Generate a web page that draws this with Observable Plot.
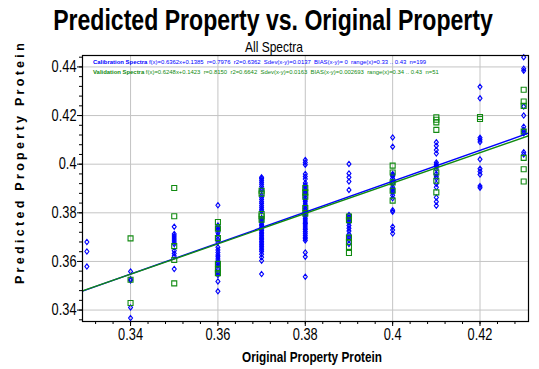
<!DOCTYPE html>
<html><head><meta charset="utf-8">
<script src="https://cdn.jsdelivr.net/npm/d3@7"></script>
<script src="https://cdn.jsdelivr.net/npm/@observablehq/plot@0.6"></script>
<style>body{margin:0;background:#fff;}</style>
</head><body><div id="chart"></div>
<script>
// ---- data ----
const xLevels = [0.33, 0.34, 0.35, 0.36, 0.37, 0.38, 0.39, 0.40, 0.41, 0.42, 0.43];

// Calibration spectra (blue diamonds), predicted values per original level
const cal033 = [0.3680, 0.3641, 0.3579];
const cal034 = [0.3559, 0.3527, 0.3522, 0.3411, 0.3367];
const cal035 = [0.3743, 0.3713, 0.3705, 0.3696, 0.3688, 0.3680, 0.3672, 0.3644, 0.3633, 0.3622, 0.3569];
const cal036 = [0.3831, 0.3748, 0.3738, 0.3728, 0.3718, 0.3706, 0.3690, 0.3680, 0.3658, 0.3647, 0.3637, 0.3627, 0.3619, 0.3610, 0.3601, 0.3592, 0.3582, 0.3570, 0.3555, 0.3544, 0.3518, 0.3477];
const cal037 = [0.3946, 0.3941, 0.3934, 0.3926, 0.3917, 0.3908, 0.3899, 0.3893, 0.3871, 0.3863, 0.3855, 0.3846, 0.3838, 0.3829, 0.3821, 0.3813, 0.3806, 0.3779, 0.3772, 0.3766, 0.3759, 0.3752, 0.3747, 0.3740, 0.3733, 0.3727, 0.3720, 0.3714, 0.3708, 0.3701, 0.3695, 0.3689, 0.3682, 0.3676, 0.3669, 0.3662, 0.3655, 0.3648, 0.3641, 0.3630, 0.3617, 0.3603, 0.3548];
const cal038 = [0.4017, 0.4007, 0.3998, 0.3960, 0.3949, 0.3939, 0.3923, 0.3914, 0.3906, 0.3897, 0.3889, 0.3884, 0.3880, 0.3871, 0.3862, 0.3853, 0.3845, 0.3836, 0.3828, 0.3819, 0.3811, 0.3802, 0.3794, 0.3786, 0.3778, 0.3770, 0.3762, 0.3757, 0.3754, 0.3746, 0.3738, 0.3731, 0.3723, 0.3716, 0.3708, 0.3700, 0.3693, 0.3686, 0.3637, 0.3619, 0.3537];
const cal039 = [0.4001, 0.3962, 0.3946, 0.3929, 0.3894, 0.3791, 0.3782, 0.3771, 0.3760, 0.3748, 0.3737, 0.3725, 0.3712, 0.3700, 0.3688, 0.3672];
const cal040 = [0.4110, 0.4072, 0.3960, 0.3955, 0.3950, 0.3941, 0.3930, 0.3920, 0.3905, 0.3897, 0.3890, 0.3885, 0.3872, 0.3860, 0.3811, 0.3804, 0.3743, 0.3729, 0.3715];
const cal041 = [0.4090, 0.4076, 0.4058, 0.4044, 0.4007, 0.4000, 0.3994, 0.3990, 0.3980, 0.3960, 0.3950, 0.3942, 0.3920, 0.3905, 0.3863, 0.3846, 0.3829];
const cal042 = [0.4318, 0.4271, 0.4109, 0.4100, 0.4091, 0.4020, 0.3981, 0.3970, 0.3958, 0.3910, 0.3903];
const cal043 = [0.4440, 0.4393, 0.4384, 0.4237, 0.4200, 0.4154, 0.4142, 0.4134, 0.4127, 0.4049, 0.4040];

// Validation spectra (green squares)
const val033 = [];
const val034 = [0.3695, 0.3525, 0.3429];
const val035 = [0.3902, 0.3786, 0.3663, 0.3606, 0.3510];
const val036 = [0.3762, 0.3735, 0.3696, 0.3590, 0.3567, 0.3552];
const val037 = [0.3891, 0.3879, 0.3795, 0.3786, 0.3772];
const val038 = [0.3902, 0.3884, 0.3866, 0.3820, 0.3797];
const val039 = [0.3785, 0.3770, 0.3698, 0.3680, 0.3660, 0.3635];
const val040 = [0.3994, 0.3966, 0.3925, 0.3891, 0.3850];
const val041 = [0.4193, 0.4183, 0.4172, 0.4141, 0.3966, 0.3932, 0.3884];
const val042 = [0.4194, 0.4186];
const val043 = [0.4306, 0.4258, 0.4240, 0.4134, 0.4026, 0.3979, 0.3929];

// regression fits [slope, intercept]
const calFit = [0.6362, 0.1385];
const valFit = [0.6248, 0.1423];

const xTicks = [0.34, 0.36, 0.38, 0.40, 0.42];
const yTicks = [0.34, 0.36, 0.38, 0.40, 0.42, 0.44];
const tickLabels = ["0.34", "0.36", "0.38", "0.4", "0.42", "0.44"];

const titleText = "Predicted Property vs. Original Property";
const subtitleText = "All Spectra";
const xLabel = "Original Property Protein";
const yLabel = "Predicted Property Protein";
const calName = "Calibration Spectra";
const calStats = "f(x)=0.6362x+0.1385\u00a0\u00a0r=0.7976\u00a0\u00a0r2=0.6362\u00a0\u00a0Sdev(x-y)=0.0137\u00a0\u00a0BIAS(x-y)=\u00a00\u00a0\u00a0range(x)=0.33\u00a0..\u00a00.43\u00a0\u00a0n=199";
const valName = "Validation Spectra";
const valStats = "f(x)=0.6248x+0.1423\u00a0\u00a0r=0.8150\u00a0\u00a0r2=0.6642\u00a0\u00a0Sdev(x-y)=0.0163\u00a0\u00a0BIAS(x-y)=0.002693\u00a0\u00a0range(x)=0.34\u00a0..\u00a00.43\u00a0\u00a0n=51";

// ---- build tables ----
const calCols = [cal033, cal034, cal035, cal036, cal037, cal038, cal039, cal040, cal041, cal042, cal043];
const valCols = [val033, val034, val035, val036, val037, val038, val039, val040, val041, val042, val043];
const calData = xLevels.flatMap((x, i) => calCols[i].map(y => ({x, y})));
const valData = xLevels.flatMap((x, i) => valCols[i].map(y => ({x, y})));

const xDomain = [0.329, 0.4311];
const yDomain = [0.3353, 0.4447];
const fitLine = f => xDomain.map(x => ({x, y: f[0] * x + f[1]}));

const fmt = d => tickLabels[yTicks.findIndex(t => Math.abs(t - d) < 1e-9)] ?? String(d);
const xMinor = d3.range(83, 108).map(i => +(i * 0.004).toFixed(3));
const yMinor = d3.range(84, 112).map(i => +(i * 0.004).toFixed(3));

const diamondSym = {draw(ctx, size) { const w = 2.0, h = 2.6; ctx.moveTo(0, -h); ctx.lineTo(w, 0); ctx.lineTo(0, h); ctx.lineTo(-w, 0); ctx.closePath(); }};
const squareSym = {draw(ctx, size) { const s = 2.5; ctx.rect(-s, -s, 2 * s, 2 * s); }};

const blue = "#0000ff", green = "#118a11";
const FONT = "'Liberation Sans', Arial, sans-serif";

const svg = Plot.plot({
  width: 539, height: 369,
  marginLeft: 82, marginRight: 11, marginTop: 55, marginBottom: 48,
  x: {domain: xDomain, label: null},
  y: {domain: yDomain, label: null},
  style: {fontFamily: FONT, fontSize: "16px", color: "black", background: "white"},
  marks: [
    Plot.gridX(xTicks, {stroke: "#c4c4c4", strokeOpacity: 1}),
    Plot.gridY(yTicks, {stroke: "#c4c4c4", strokeOpacity: 1}),
    Plot.dot(calData, {x: "x", y: "y", symbol: diamondSym, r: 3, stroke: blue, strokeWidth: 1.1, fill: "none"}),
    Plot.dot(valData, {x: "x", y: "y", symbol: squareSym, r: 3, stroke: green, strokeWidth: 1.1, fill: "none"}),
    Plot.line(fitLine(calFit), {x: "x", y: "y", stroke: blue, strokeWidth: 1.4, clip: true}),
    Plot.line(fitLine(valFit), {x: "x", y: "y", stroke: green, strokeWidth: 1.4, clip: true}),
    Plot.axisX(xTicks, {tickSize: 5, tickPadding: 2, tickFormat: fmt, fontSize: 16, label: null}),
    Plot.axisX(xMinor, {tickSize: 3, tickFormat: () => "", label: null}),
    Plot.axisY(yTicks, {tickSize: 5, tickPadding: 1, tickFormat: fmt, fontSize: 16, label: null}),
    Plot.axisY(yMinor, {tickSize: 3, tickFormat: () => "", label: null}),
    Plot.frame({stroke: "black", strokeWidth: 1.2})
  ]
});
document.getElementById("chart").appendChild(svg);

const s = d3.select(svg);
// condense a text to mimic a narrow typeface
function condense(node, factor, target) {
  const len = node.getComputedTextLength();
  if (!len) return;
  node.setAttribute("textLength", target ?? len * factor);
  node.setAttribute("lengthAdjust", "spacingAndGlyphs");
}
s.selectAll("text").each(function() { if (this.textContent.trim()) condense(this, 0.8); });

// title: horizontally scaled (narrow look) via transform
const title = s.append("text").attr("x", 0).attr("y", 0).attr("text-anchor", "middle")
  .style("font-family", FONT).style("font-weight", "bold").style("font-size", "29px")
  .attr("fill", "black").text(titleText);
const tlen = title.node().getComputedTextLength() || 553;
title.attr("transform", `translate(273,29.5) scale(${(440 / tlen).toFixed(4)},1)`);

const sub = s.append("text").attr("x", 274).attr("y", 51.5).attr("text-anchor", "middle")
  .style("font-family", FONT).style("font-size", "14.5px")
  .attr("fill", "black").text(subtitleText);
condense(sub.node(), 0, 58);
const xl = s.append("text").attr("x", 312).attr("y", 362).attr("text-anchor", "middle")
  .style("font-family", FONT).style("font-weight", "bold").style("font-size", "14.5px")
  .attr("fill", "black").text(xLabel);
condense(xl.node(), 0, 140);
s.append("text").attr("transform", "translate(24,162) rotate(-90)").attr("text-anchor", "middle")
  .style("font-family", FONT).style("font-weight", "bold").style("font-size", "12.5px")
  .style("letter-spacing", "3.3px").attr("fill", "black").text(yLabel);

function legendLine(y, color, name, stats, target) {
  const t = s.append("text").attr("x", 93).attr("y", y).attr("text-anchor", "start")
    .style("text-anchor", "start")
    .style("font-family", FONT).style("font-size", "6px").attr("fill", color);
  t.append("tspan").style("font-weight", "bold").text(name + "\u00a0");
  t.append("tspan").text(stats);
  const len = t.node().getComputedTextLength();
  if (len) t.style("font-size", (6 * target / len).toFixed(3) + "px");
}
legendLine(64.3, blue, calName, calStats, 334);
legendLine(74.0, green, valName, valStats, 346);
</script>
</body></html>
